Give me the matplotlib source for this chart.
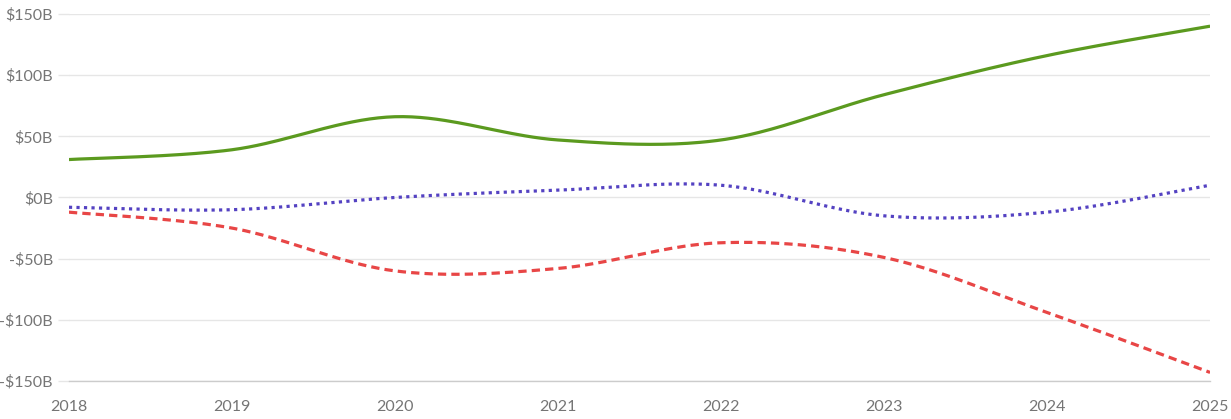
import numpy as np
import matplotlib.pyplot as plt
from matplotlib.ticker import FuncFormatter

plt.rcParams['font.family'] = ['Lato', 'DejaVu Sans']

years = [2018, 2019, 2020, 2021, 2022, 2023, 2024, 2025]
green_vals = [31, 39, 66, 47, 47, 84, 116, 140]
purple_vals = [-8, -10, 0, 6, 10, -15, -12, 10]
red_vals = [-12, -25, -60, -58, -37, -49, -94, -143]


def smooth(x, y, n=40):
    # catmull-rom through the yearly points, only for drawing
    x = np.asarray(x, float)
    y = np.asarray(y, float)
    px = np.concatenate([[x[0]], x, [x[-1]]])
    py = np.concatenate([[y[0]], y, [y[-1]]])
    xs, ys = [], []
    t = np.linspace(0, 1, n)
    for i in range(1, len(px) - 2):
        for arr, out in ((px, xs), (py, ys)):
            p0, p1, p2, p3 = arr[i - 1], arr[i], arr[i + 1], arr[i + 2]
            out.append(0.5 * (2 * p1 + (-p0 + p2) * t
                              + (2 * p0 - 5 * p1 + 4 * p2 - p3) * t ** 2
                              + (-p0 + 3 * p1 - 3 * p2 + p3) * t ** 3))
    return np.concatenate(xs), np.concatenate(ys)


fig = plt.figure(figsize=(12.31, 4.19), dpi=100)
ax = fig.add_axes([0.056, 0.0907, 0.927, 0.876])

lw = 2.3
gx, gy = smooth(years, green_vals)
ax.plot(gx, gy, color='#5b9a1f', lw=lw, solid_capstyle='butt')
px_, py_ = smooth(years, purple_vals)
ax.plot(px_, py_, color='#5442c2', lw=lw, linestyle=(0, (1, 1.35)), dash_capstyle='butt')
rx, ry = smooth(years, red_vals)
ax.plot(rx, ry, color='#e84646', lw=lw, linestyle=(0, (2.6, 1.6)), dash_capstyle='butt')

ax.set_xlim(2018, 2025)
ax.set_ylim(-150, 150)
ax.set_yticks(range(-150, 151, 50))
ax.set_xticks(years)
ax.yaxis.set_major_formatter(FuncFormatter(lambda v, p: f'-${-int(v)}B' if v < 0 else f'${int(v)}B'))

ax.grid(axis='y', color='#e6e6e6', lw=1)
ax.set_axisbelow(True)
for s in ['top', 'right', 'left']:
    ax.spines[s].set_visible(False)
ax.spines['bottom'].set_color('#cccccc')
ax.spines['bottom'].set_linewidth(1)
ax.tick_params(axis='y', length=8, color='#e6e6e6', width=1, pad=3.5, labelsize=11.5, labelcolor='#757575')
ax.tick_params(axis='x', length=0, pad=13.5, labelsize=11.5, labelcolor='#757575')

fig.savefig('out.png', dpi=100)
